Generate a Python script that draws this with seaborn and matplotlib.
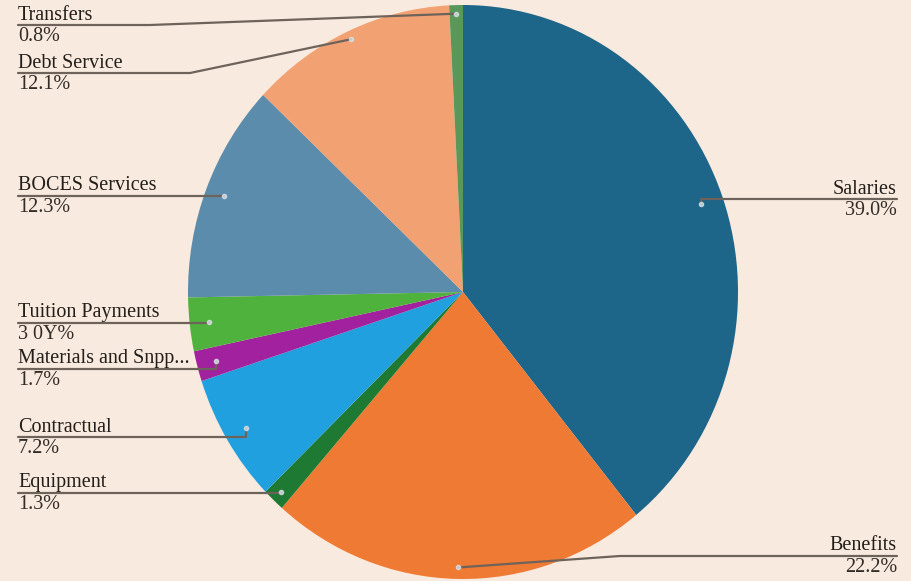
import numpy as np
import matplotlib
matplotlib.use("Agg")
import matplotlib.pyplot as plt
import seaborn as sns

sns.set_theme(style="white")
plt.rcParams['font.family'] = ['Liberation Serif', 'DejaVu Serif']

categories = ["Salaries", "Benefits", "Equipment", "Contractual", "Materials and Snpp...",
              "Tuition Payments", "BOCES Services", "Debt Service", "Transfers"]
values = [39.0, 22.2, 1.3, 7.2, 1.7, 3.0, 12.3, 12.1, 0.8]
pct_labels = ["39.0%", "22.2%", "1.3%", "7.2%", "1.7%", "3 0Y%", "12.3%", "12.1%", "0.8%"]
colors = ["#1d6689", "#ef7a34", "#1e7a32", "#21a0df", "#a1219e",
          "#4fb23c", "#5b8cab", "#f2a173", "#5a985a"]

# layout (pixel coords of reference)
W, H = 912, 581
CX, CY = 463, 292
RX, RY = 275, 287
K = RY / RX
bg = "#f8eade"

def P(x, y):
    return (x * K, H - y)

fig = plt.figure(figsize=(W / 100, H / 100), dpi=100, facecolor=bg)
ax = fig.add_axes([0, 0, 1, 1])
ax.set_facecolor(bg)

cx, cy = P(CX, CY)
wedges, _ = ax.pie(values, colors=colors, startangle=90, counterclock=False,
                   center=(cx, cy), radius=RY, frame=True,
                   wedgeprops=dict(linewidth=0))
ax.set_aspect("auto")
ax.set_xlim(0, W * K)
ax.set_ylim(0, H)
ax.axis("off")

# label layout: side, line_y, elbow_x, anchor radius fraction
layout = {
    "Salaries": ("R", 199, None, 0.92),
    "Benefits": ("R", 556, 620, 0.96),
    "Equipment": ("L", 493, None, 0.96),
    "Contractual": ("L", 437, None, 0.92),
    "Materials and Snpp...": ("L", 369, None, 0.93),
    "Tuition Payments": ("L", 323, None, 0.93),
    "BOCES Services": ("L", 196, None, 0.93),
    "Debt Service": ("L", 73, 190, 0.97),
    "Transfers": ("L", 25, 150, 0.97),
}

total = sum(values)
cum = 0.0
line_col = "#6e635b"
for name, v, pl in zip(categories, values, pct_labels):
    mid = cum + v / 2
    cum += v
    ang = np.deg2rad(90 - 360 * mid / total)
    side, ly, ex, rf = layout[name]
    ax_px = CX + RX * rf * np.cos(ang)
    ay_px = CY - RY * rf * np.sin(ang)
    tx = 18 if side == "L" else 897
    ha = "left" if side == "L" else "right"
    pts = [(tx, ly), (ex if ex is not None else ax_px, ly), (ax_px, ay_px)]
    xs = [P(x, y)[0] for x, y in pts]
    ys = [P(x, y)[1] for x, y in pts]
    ax.plot(xs, ys, color=line_col, lw=1.6, solid_capstyle="round", zorder=3)
    ax.plot([xs[-1]], [ys[-1]], "o", ms=3, color="#d8e0e6", alpha=0.8, zorder=4)
    x0, y0 = P(tx, ly - 0.5)
    ax.text(x0, y0, name, ha=ha, va="bottom", fontsize=14.5, color="#231e1a", zorder=5)
    x1, y1 = P(tx, ly + 2)
    ax.text(x1, y1, pl, ha=ha, va="top", fontsize=14.5, color="#322b26", zorder=5)

fig.savefig("out.png", dpi=100, facecolor=bg)
